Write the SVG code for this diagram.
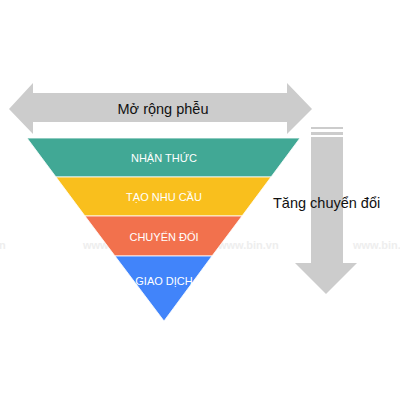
<svg xmlns="http://www.w3.org/2000/svg" width="400" height="400" viewBox="0 0 400 400">
<style>
.arrow{fill:#cccccc}
.lbl{font-family:"Liberation Sans",Arial,sans-serif;font-size:11px;fill:#ffffff;text-anchor:middle}
.cap{font-family:"Liberation Sans",Arial,sans-serif;font-size:14.5px;fill:#111111}
.wm{font-family:"Liberation Sans",Arial,sans-serif;font-size:11px;font-weight:bold;fill:#eeeeee}
.band{stroke:#ffffff;stroke-width:0.8}
</style>
<rect width="400" height="400" fill="#ffffff"/>
<g id="watermarks">
<text class="wm" x="-55" y="249">www.bin.vn</text>
<text class="wm" x="83" y="249">www.bin.vn</text>
<text class="wm" x="218" y="249">www.bin.vn</text>
<text class="wm" x="353" y="249">www.bin.vn</text>
</g>
<g id="connectors">
<g id="arrow-widen">
<polygon class="arrow" points="9,109 33,83 33,93 287,93 287,83 312,109 287,134 287,122 33,122 33,134"/>
<text class="cap" x="163" y="114" text-anchor="middle">Mở rộng phễu</text>
</g>
<g id="arrow-convert">
<rect class="arrow" x="311" y="127" width="32" height="2"/>
<rect class="arrow" x="311" y="132" width="32" height="3"/>
<polygon class="arrow" points="311,137 343,137 343,263 357,263 326,294 295,263 311,263"/>
<text class="cap" x="273" y="208">Tăng chuyển đổi</text>
</g>
</g>
<g id="node-nhan-thuc">
<polygon class="band" fill="#41a895" points="27,138 300,138 271,177 56,177"/>
<text class="lbl" x="164" y="162">NHẬN THỨC</text>
</g>
<g id="node-tao-nhu-cau">
<polygon class="band" fill="#f9bf1d" points="56,177 271,177 242,216 85,216"/>
<text class="lbl" x="164" y="201">TẠO NHU CẦU</text>
</g>
<g id="node-chuyen-doi">
<polygon class="band" fill="#f2714d" points="85,216 242,216 212,256 115,256"/>
<text class="lbl" x="164" y="241">CHUYỂN ĐỔI</text>
</g>
<g id="node-giao-dich">
<polygon class="band" fill="#4184fa" points="115,256 212,256 164,321"/>
<text class="lbl" x="164" y="285">GIAO DỊCH</text>
</g>
</svg>
